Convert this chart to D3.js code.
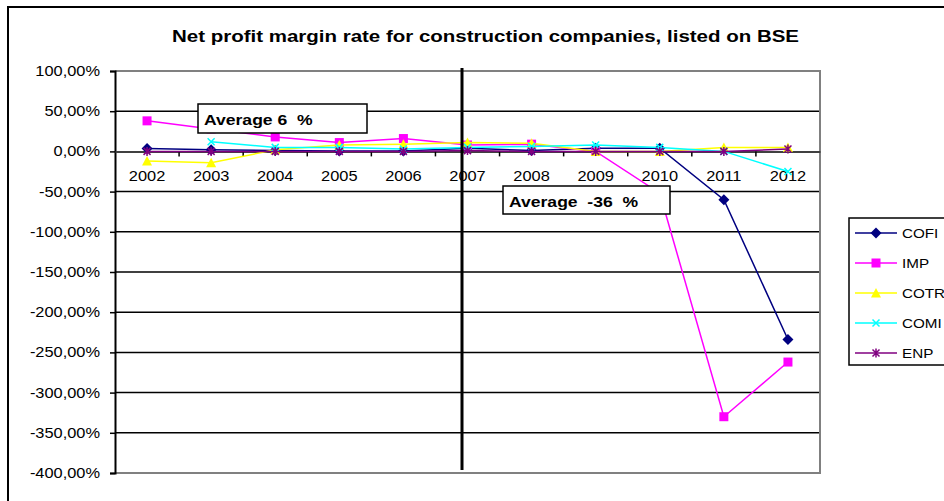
<!DOCTYPE html>
<html>
<head>
<meta charset="utf-8">
<script src="https://cdn.jsdelivr.net/npm/d3@7"></script>
<style>
body{margin:0;background:#fff;}
text{font-family:Arial,"Liberation Sans",sans-serif;}
</style>
</head>
<body>
<svg id="chart" width="944" height="501"></svg>
<script>
// values, in percent
var years = ["2002","2003","2004","2005","2006","2007","2008","2009","2010","2011","2012"];
var COFI = [3.5, 2, 1, 0.5, 0.5, 4, 1, 4, 4, -60, -234];
var IMP  = [38, 28, 18, 11, 16, 8, 9, 0, -52, -330, -262];
var COTR = [-12, -14, 2, 8, 9, 11, 10, 0, 0, 5, 5];
var COMI = [null, 12, 5, 5, 3, 5, 6, 8, 5, 0, -25];
var ENP  = [0, 0, 0, 0, 0, 1, 0, 0, 0, 0, 3];
var yTicks = [100,50,0,-50,-100,-150,-200,-250,-300,-350,-400];
var seriesNames = ["COFI","IMP","COTR","COMI","ENP"];
var seriesColors = ["#000080","#ff00ff","#ffff00","#00ffff","#800080"];
var seriesMarkers = ["diamond","square","triangle","x","star"];
var seriesValues = [COFI, IMP, COTR, COMI, ENP];
var avgLabels = ["Average 6  %","Average  -36  %"];

var svg = d3.select("#chart");
var plot = {left:115, right:820, top:71, bottom:473};
var K = 1.17; // text in the source is stretched horizontally

function stretch(sel){
	sel.each(function(){
		var w = this.getComputedTextLength();
		this.setAttribute("textLength", w*K);
		this.setAttribute("lengthAdjust","spacingAndGlyphs");
	});
}

var x = d3.scaleBand().domain(years).range([plot.left, plot.right]);
var y = d3.scaleLinear().domain([-400,100]).range([plot.bottom, plot.top]);
var cx = function(d){ return x(d) + x.bandwidth()/2; };

// outer chart frame
svg.append("rect").attr("x",8).attr("y",7).attr("width",950).attr("height",520)
	.attr("fill","none").attr("stroke","#000").attr("stroke-width",2);

// title
svg.append("text").attr("x",485.5).attr("y",42).attr("text-anchor","middle")
	.style("font-size","16px").style("font-weight","bold")
	.attr("textLength",627).attr("lengthAdjust","spacingAndGlyphs")
	.text("Net profit margin rate for construction companies, listed on BSE");

// grid
svg.append("g").selectAll("line").data(yTicks.filter(function(d){return d!=100 && d!=-400 && d!=0;}))
	.join("line")
	.attr("x1",plot.left).attr("x2",plot.right)
	.attr("y1",function(d){return y(d);}).attr("y2",function(d){return y(d);})
	.attr("stroke","#000").attr("stroke-width",1.5);

// plot frame (gray)
svg.append("path")
	.attr("d","M"+plot.left+","+plot.top+"H"+plot.right+"V"+plot.bottom+"H"+plot.left)
	.attr("fill","none").attr("stroke","#808080").attr("stroke-width",2);

// y axis
var yAxis = svg.append("g").attr("transform","translate("+plot.left+",0)")
	.call(d3.axisLeft(y).tickValues(yTicks).tickSize(5).tickPadding(10)
		.tickFormat(function(d){return d.toFixed(2).replace(".",",")+"%";}));
yAxis.select(".domain").attr("stroke","#000").attr("stroke-width",2);
yAxis.selectAll(".tick line").attr("stroke","#000").attr("stroke-width",1.5);
yAxis.selectAll(".tick text").style("font-size","14px").attr("fill","#000")
	.attr("font-family",null).call(stretch);

// x axis on the zero line
var xAxis = svg.append("g").attr("transform","translate(0,"+y(0)+")")
	.call(d3.axisBottom(x).tickSize(0).tickPadding(20));
xAxis.select(".domain").attr("stroke","#404040").attr("stroke-width",2);
xAxis.selectAll(".tick text").style("font-size","14px").attr("fill","#000")
	.attr("font-family",null).call(stretch);
xAxis.append("g").selectAll("line").data(years.slice(1))
	.join("line")
	.attr("x1",function(d){return x(d);}).attr("x2",function(d){return x(d);})
	.attr("y1",0).attr("y2",5).attr("stroke","#000").attr("stroke-width",1.5);

// marker shapes
function marker(g, type, color){
	if (type=="diamond"){
		g.append("path").attr("d","M0,-5.5L5.5,0L0,5.5L-5.5,0Z").attr("fill",color);
	} else if (type=="square"){
		g.append("rect").attr("x",-4.5).attr("y",-4.5).attr("width",9).attr("height",9).attr("fill",color);
	} else if (type=="triangle"){
		g.append("path").attr("d","M0,-5L5,4.5L-5,4.5Z").attr("fill",color);
	} else if (type=="x"){
		g.append("path").attr("d","M-3.5,-3.5L3.5,3.5M-3.5,3.5L3.5,-3.5").attr("stroke",color).attr("stroke-width",1.5);
	} else {
		g.append("path").attr("d","M-3.5,-3.5L3.5,3.5M-3.5,3.5L3.5,-3.5M0,-4.5V4.5").attr("stroke",color).attr("stroke-width",1.5);
	}
}

var line = d3.line()
	.defined(function(d){return d.v!==null;})
	.x(function(d){return cx(d.year);})
	.y(function(d){return y(d.v);});

seriesNames.forEach(function(name,i){
	var pts = years.map(function(yr,j){return {year:yr, v:seriesValues[i][j]};});
	var g = svg.append("g").attr("class","series "+name);
	g.append("path").datum(pts).attr("d",line)
		.attr("fill","none").attr("stroke",seriesColors[i]).attr("stroke-width",1.5);
	pts.filter(function(d){return d.v!==null;}).forEach(function(d){
		var m = g.append("g").attr("transform","translate("+cx(d.year)+","+y(d.v)+")");
		marker(m, seriesMarkers[i], seriesColors[i]);
	});
});

// divider line between periods
svg.append("line").attr("x1",x("2007")+x.bandwidth()/2-5.5).attr("x2",x("2007")+x.bandwidth()/2-5.5)
	.attr("y1",68).attr("y2",470).attr("stroke","#000").attr("stroke-width",3);

// average boxes
var boxes = [{x:198,y:104,w:169,h:29,t:avgLabels[0]},{x:503,y:186,w:167,h:28,t:avgLabels[1]}];
boxes.forEach(function(b){
	svg.append("rect").attr("x",b.x).attr("y",b.y).attr("width",b.w).attr("height",b.h)
		.attr("fill","#fff").attr("stroke","#000").attr("stroke-width",1.5);
	svg.append("text").attr("x",b.x+6).attr("y",b.y+21).attr("xml:space","preserve")
		.style("white-space","pre").style("font-size","15px").style("font-weight","bold")
		.text(b.t).call(stretch);
});

// legend
var leg = svg.append("g");
leg.append("rect").attr("x",849).attr("y",218).attr("width",120).attr("height",147)
	.attr("fill","#fff").attr("stroke","#000").attr("stroke-width",1.5);
seriesNames.forEach(function(name,i){
	var ly = 233 + i*30;
	leg.append("line").attr("x1",855).attr("x2",897).attr("y1",ly).attr("y2",ly)
		.attr("stroke",seriesColors[i]).attr("stroke-width",1.5);
	marker(leg.append("g").attr("transform","translate(876,"+ly+")"), seriesMarkers[i], seriesColors[i]);
	leg.append("text").attr("x",902).attr("y",ly+5).style("font-size","13px").text(name).call(stretch);
});
</script>
</body>
</html>
